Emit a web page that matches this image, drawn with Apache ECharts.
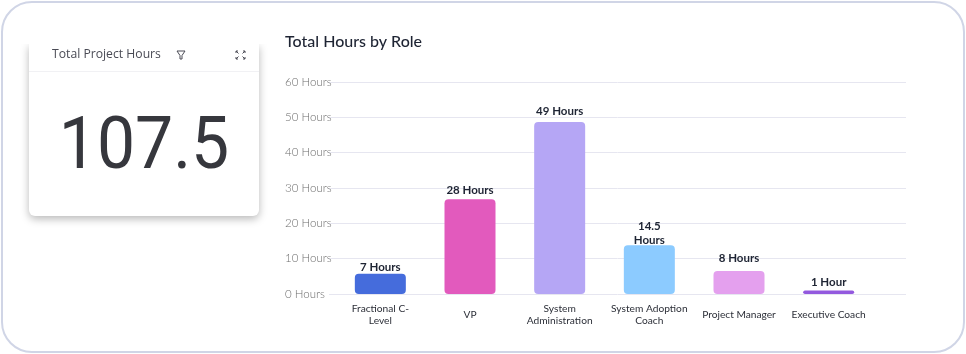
<!DOCTYPE html>
<html><head><meta charset="utf-8">
<style>html,body{margin:0;padding:0;background:#fff}#c{width:966px;height:354px}</style>
<script src="https://cdn.jsdelivr.net/npm/echarts@6/dist/echarts.min.js"></script>
</head><body><div id="c"></div>
<script>
const categories = ['Fractional C-\nLevel','VP','System\nAdministration','System Adoption\nCoach','Project Manager','Executive Coach'];
const barValues = [5.7, 26.8, 48.7, 13.8, 6.5, 1];
const valueLabels = ['7 Hours','28 Hours','49 Hours','14.5\nHours','8 Hours','1 Hour'];
const barColors = ['#456cdc','#e25abd','#b5a6f5','#8ccbff','#e4a0ee','#9359de'];
const yTicks = {min:0,max:60,interval:10};
const kpiTitle = 'Total Project Hours';
const kpiValue = '107.5';
const chartTitle = 'Total Hours by Role';

const labelGap = [0, 2, 4, -2, 6, 1];
const F = 'Lato, "Noto Sans", sans-serif';
const INK = '#4a4b55';
const chart = echarts.init(document.getElementById('c'), null, {renderer:'canvas'});
chart.setOption({
  animation:false,
  backgroundColor:'#fff',
  title:{text:chartTitle,left:280,top:29,textStyle:{fontFamily:F,fontSize:16,fontWeight:500,color:'#1e2433'}},
  grid:[
    {left:329,right:60,top:82,bottom:60},
    {left:335.5,right:92.5,top:82,bottom:60}
  ],
  xAxis:[
    {type:'category',gridIndex:0,show:false,data:categories},
    {type:'category',gridIndex:1,data:categories,
      axisLine:{show:false},axisTick:{show:false},
      axisLabel:{interval:0,margin:21,verticalAlign:'middle',lineHeight:12,fontFamily:F,fontSize:10.2,color:'#2c2f38'}}
  ],
  yAxis:[
    {type:'value',gridIndex:0,...yTicks,axisLine:{show:false},axisTick:{show:false},
      splitLine:{lineStyle:{color:'#e6e6f0',width:1}},
      axisLabel:{formatter:'{value} Hours',align:'left',margin:44,fontFamily:F,fontWeight:300,fontSize:11.5,color:'#6e6e6e'}},
    {type:'value',gridIndex:1,...yTicks,show:false,splitLine:{show:false}}
  ],
  series:[{
    type:'bar',xAxisIndex:1,yAxisIndex:1,barWidth:51,
    data:barValues.map((v,i)=>({
      value:v,
      itemStyle:{color:barColors[i],borderRadius:4},
      label:{show:true,position:'top',distance:labelGap[i],formatter:valueLabels[i],
        fontFamily:F,fontWeight:700,fontSize:11.5,lineHeight:14,color:'#1e2433'}
    }))
  }],
  graphic:[
    {type:'rect',z:-10,silent:true,shape:{x:2,y:2,width:962,height:350,r:30},
      style:{fill:'#fff',stroke:'#d0d5e6',lineWidth:2}},
    {type:'rect',z:-9,silent:true,shape:{x:29,y:44,width:230,height:172,r:[0,0,6,6]},
      style:{fill:'#fff',shadowBlur:8,shadowOffsetY:3,shadowColor:'rgba(0,0,0,0.28)'}},
    {type:'rect',z:-8,silent:true,shape:{x:20,y:30,width:250,height:14},style:{fill:'#fff'}},
    {type:'line',z:-7,silent:true,shape:{x1:29,y1:71.5,x2:259,y2:71.5},style:{stroke:'#f1f1f4',lineWidth:1}},
    {type:'text',z:5,silent:true,style:{x:52,y:55,text:kpiTitle,verticalAlign:'middle',
      font:'500 12.2px "Open Sans", sans-serif',fill:INK}},
    {type:'text',z:5,silent:true,x:144,y:150,scaleX:0.93,style:{x:0,y:0,text:kpiValue,align:'center',verticalAlign:'middle',
      font:'400 73px Roboto, sans-serif',fill:'#36373d'}},
    {type:'polygon',z:5,silent:true,shape:{points:[[177,51],[185,51],[182,55.5],[182,59],[180,59],[180,55.5]]},
      style:{fill:'none',stroke:INK,lineWidth:1}},
    ...[[236,53,236,51,238,51,238.5,53.5],[243,51,245,51,245,53,242.5,53.5],[236,57,236,59,238,59,238.5,56.5],[243,59,245,59,245,57,242.5,56.5]].flatMap(p=>[
      {type:'polyline',z:5,silent:true,shape:{points:[[p[0],p[1]],[p[2],p[3]],[p[4],p[5]]]},
        style:{fill:'none',stroke:INK,lineWidth:1}},
      {type:'line',z:5,silent:true,shape:{x1:p[2],y1:p[3],x2:p[6],y2:p[7]},style:{stroke:INK,lineWidth:1}}
    ])
  ]
});
</script></body></html>
